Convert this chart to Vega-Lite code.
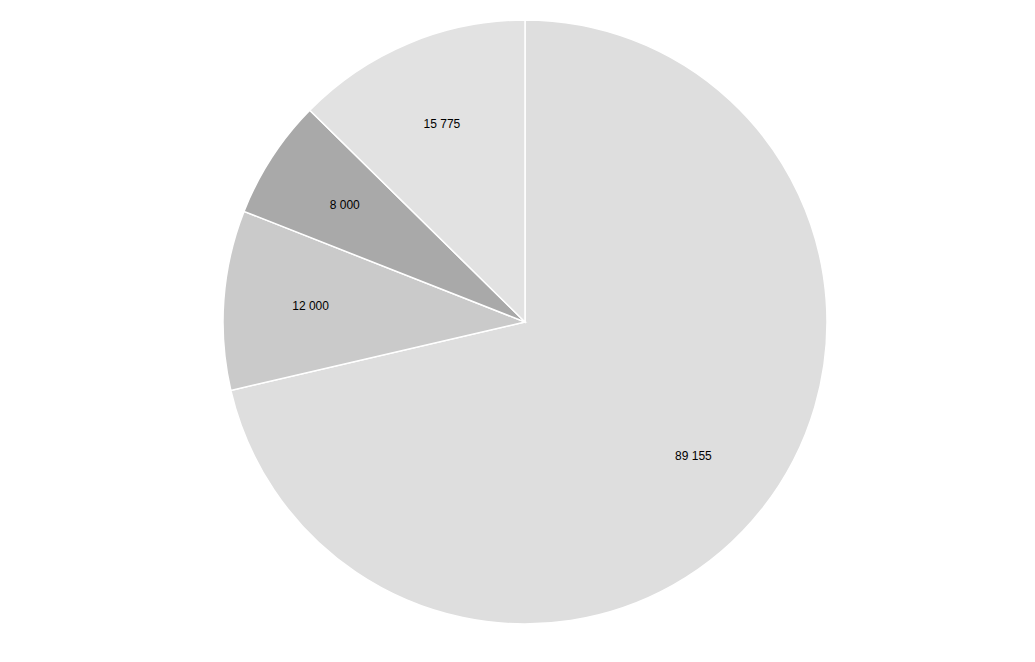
{
  "$schema": "https://vega.github.io/schema/vega-lite/v6.json",
  "autosize": {"type": "fit", "contains": "padding"},
  "width": 1035,
  "height": 662,
  "padding": {"left": 15, "top": 0, "right": 0, "bottom": 18},
  "background": "white",
  "config": {
    "view": {"stroke": null},
    "locale": {"number": {"decimal": ",", "thousands": " ", "grouping": [3], "currency": ["", ""]}}
  },
  "data": {
    "values": [
      {"slice": "A", "order": 1, "value": 89155},
      {"slice": "B", "order": 2, "value": 12000},
      {"slice": "C", "order": 3, "value": 8000},
      {"slice": "D", "order": 4, "value": 15775}
    ]
  },
  "encoding": {
    "theta": {"field": "value", "type": "quantitative", "stack": true},
    "order": {"field": "order", "type": "quantitative"},
    "color": {
      "field": "slice",
      "type": "nominal",
      "scale": {"domain": ["A", "B", "C", "D"], "range": ["#dedede", "#cacaca", "#a9a9a9", "#e2e2e2"]},
      "legend": null
    }
  },
  "layer": [
    {"mark": {"type": "arc", "outerRadius": 302, "stroke": "white", "strokeWidth": 1.5}},
    {
      "mark": {"type": "text", "radius": 215, "font": "Liberation Sans", "fontSize": 12},
      "encoding": {
        "text": {"field": "value", "type": "quantitative", "format": ",.0f"},
        "color": {"value": "black"},
        "detail": {"field": "slice", "type": "nominal"}
      }
    }
  ]
}
